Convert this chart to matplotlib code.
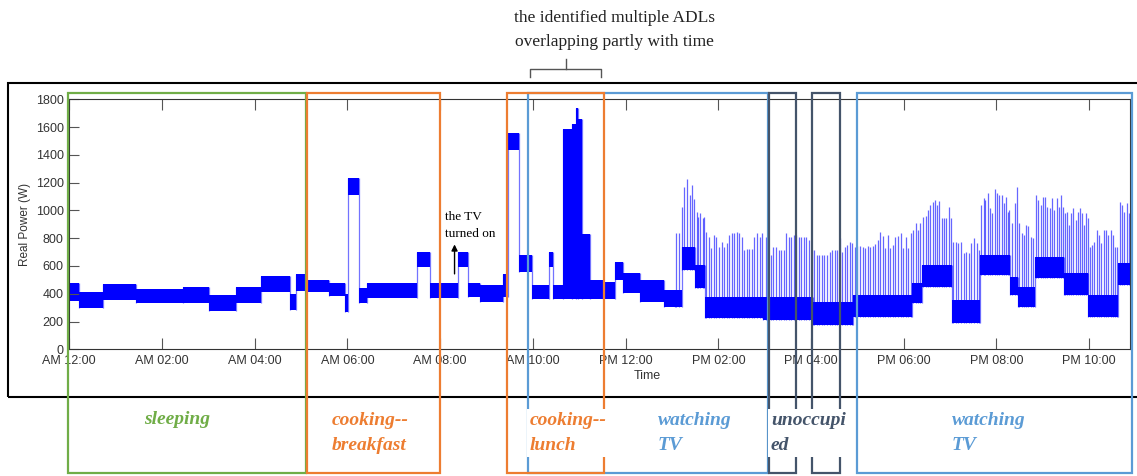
import numpy as np
import matplotlib
matplotlib.use("Agg")
import matplotlib.pyplot as plt
from matplotlib.patches import Rectangle
from matplotlib.lines import Line2D

plt.rcParams['font.family'] = ['Liberation Sans', 'DejaVu Sans']

# ---- data (hours since midnight, watts) ----
# dense band of the power signal: step segments with low / high envelope
band_edges = [0.00, 0.22, 0.72, 1.44, 2.45, 3.02, 3.60, 4.14, 4.75, 4.89,
              5.10, 5.60, 5.94, 6.02, 6.24, 6.42, 7.50, 7.78, 8.39, 8.61,
              8.86, 9.36, 9.47, 9.69, 9.98, 10.34, 10.44, 10.66, 10.84, 10.92,
              10.98, 11.05, 11.23, 11.52, 11.77, 11.95, 12.31, 12.82, 13.07, 13.21,
              13.50, 13.72, 14.97, 16.05, 16.91, 18.17, 18.39, 19.04, 19.65, 20.30,
              20.47, 20.83, 21.45, 21.98, 22.63, 22.88]
band_lo = [350, 295, 355, 331, 331, 276, 331, 415, 283, 420,
           410, 385, 271, 1111, 331, 367, 595, 367, 595, 379,
           343, 379, 1435, 559, 360, 595, 360, 360, 360, 360,
           360, 360, 360, 360, 499, 403, 343, 307, 302, 571,
           439, 223, 211, 175, 232, 331, 451, 187, 535, 391,
           307, 511, 391, 235, 463]
band_hi = [475, 415, 468, 432, 446, 391, 446, 528, 400, 545,
           500, 480, 400, 1231, 439, 475, 703, 475, 703, 475,
           463, 540, 1555, 679, 463, 703, 463, 1584, 1620, 1740,
           1660, 830, 499, 487, 631, 547, 499, 427, 427, 739,
           607, 379, 379, 343, 390, 475, 607, 355, 679, 523,
           451, 667, 547, 391, 619]

# short on/off spikes above the band (afternoon)
spike_t = [13.08, 13.16,
           13.22, 13.27, 13.32, 13.38, 13.43, 13.47,
           13.53, 13.57, 13.61, 13.66, 13.70,
           13.74, 13.79, 13.85, 13.90, 13.96, 14.01, 14.07, 14.12, 14.18, 14.23, 14.29, 14.34,
           14.40, 14.45, 14.51, 14.56, 14.62, 14.67, 14.73, 14.78, 14.84, 14.89, 14.95,
           15.02, 15.08, 15.13, 15.19, 15.24, 15.30, 15.35, 15.41, 15.46, 15.52, 15.57, 15.63,
           15.68, 15.74, 15.79, 15.85, 15.90, 15.96, 16.01,
           16.07, 16.12, 16.18, 16.23, 16.29, 16.34, 16.40, 16.45, 16.51, 16.56, 16.62, 16.67,
           16.73, 16.78, 16.84, 16.89,
           16.94, 17.00, 17.05, 17.11, 17.16, 17.22, 17.27, 17.33, 17.38, 17.44, 17.49, 17.55,
           17.60, 17.66, 17.71, 17.77, 17.82, 17.88, 17.93, 17.99, 18.04, 18.10, 18.15,
           18.20, 18.26, 18.31, 18.36,
           18.42, 18.47, 18.52, 18.57, 18.62, 18.67, 18.72, 18.77, 18.82, 18.87, 18.92, 18.97, 19.02,
           19.07, 19.13, 19.18, 19.24, 19.29, 19.35, 19.40, 19.46, 19.51, 19.57, 19.62,
           19.67, 19.72, 19.76, 19.81, 19.86, 19.91, 19.96, 20.01, 20.06, 20.11, 20.16, 20.21, 20.25, 20.28,
           20.33, 20.39, 20.44,
           20.49, 20.54, 20.59, 20.64, 20.69, 20.74, 20.79,
           20.85, 20.90, 20.95, 21.00, 21.05, 21.10, 21.15, 21.20, 21.25, 21.30, 21.35, 21.40, 21.44,
           21.47, 21.52, 21.56, 21.61, 21.66, 21.71, 21.75, 21.80, 21.85, 21.89, 21.93, 21.97,
           22.01, 22.06, 22.11, 22.16, 22.21, 22.26, 22.31, 22.36, 22.41, 22.46, 22.51, 22.56, 22.61,
           22.66, 22.71, 22.76, 22.81, 22.86]
spike_hi = [835, 835,
            1027, 1171, 1224, 1111, 1183, 1080,
            991, 955, 984, 943, 955,
            847, 811, 727, 823, 811, 739, 775, 739, 768, 823, 840, 835,
            845, 840, 811, 715, 720, 725, 720, 811, 840, 811, 840,
            811, 811, 679, 739, 739, 715, 715, 715, 835, 811, 811, 823,
            823, 811, 811, 811, 811, 787, 715,
            715, 679, 679, 679, 679, 679, 703, 715, 715, 715, 799, 703,
            739, 751, 775, 763,
            739, 745, 742, 739, 730, 742, 735, 745, 760, 790, 847, 816,
            727, 823, 727, 751, 811, 816, 835, 727, 811, 727, 835,
            859, 907, 859, 907,
            955, 960, 1003, 1039, 1063, 1075, 1039, 1070, 943, 943, 943, 1027, 943,
            775, 775, 763, 775, 691, 703, 691, 763, 799, 763, 715,
            1039, 1087, 1075, 1128, 1015, 979, 1152, 1123, 1111, 1111, 1051, 1099, 991, 1003,
            907, 1051, 1166,
            907, 835, 823, 895, 890, 811, 799,
            1111, 1075, 1039, 1099, 1095, 1027, 1015, 1087, 1003, 1087, 1027, 1111, 1027,
            979, 991, 895, 979, 1015, 931, 991, 1015, 979, 895, 979, 943,
            739, 751, 775, 859, 823, 763, 859, 859, 823, 859, 823, 739, 739,
            1063, 1039, 991, 1051, 979]

tick_hours = [0, 2, 4, 6, 8, 10, 12, 14, 16, 18, 20, 22]
tick_labels = ['AM 12:00', 'AM 02:00', 'AM 04:00', 'AM 06:00', 'AM 08:00', 'AM 10:00',
               'PM 12:00', 'PM 02:00', 'PM 04:00', 'PM 06:00', 'PM 08:00', 'PM 10:00']

activities = ['sleeping', 'cooking--\nbreakfast', 'cooking--\nlunch',
              'watching\nTV', 'unoccupi\ned', 'watching\nTV']

W, H = 1137, 476
GREEN, ORANGE, BLUE, DARK = '#70AD47', '#ED7D31', '#5B9BD5', '#44546A'


def fx(x):
    return x / W


def fy(y):
    return 1 - y / H


fig = plt.figure(figsize=(W / 100, H / 100), dpi=100)
ax = fig.add_axes([fx(69.3), fy(349.3), (1130 - 69.3) / W, 250 / H])

# signal: solid band, transitions between levels, spikes
ax.stairs(band_hi, band_edges, baseline=band_lo, fill=True, color='#0000ff', lw=0)
lo = np.array(band_lo)
hi = np.array(band_hi)
ax.vlines(band_edges[1:-1], np.minimum(lo[:-1], lo[1:]), np.maximum(hi[:-1], hi[1:]),
          color='#0000ff', lw=0.9, alpha=0.55)
idx = np.searchsorted(band_edges, spike_t, side='right') - 1
ax.vlines(spike_t, lo[idx], spike_hi, color='#0000ff', lw=0.9, alpha=0.6)

ax.set_xlim(0, 22.88)
ax.set_ylim(0, 1800)
ax.set_xticks(tick_hours)
ax.set_xticklabels(tick_labels)
ax.set_yticks(range(0, 1801, 200))
ax.tick_params(axis='x', direction='in', length=8, top=True, labelsize=9,
               color='#555555', labelcolor='#333333', pad=4)
ax.tick_params(axis='y', direction='in', length=7, labelsize=9,
               color='#555555', labelcolor='#333333', pad=4)
for s in ax.spines.values():
    s.set_color('#333333')
    s.set_linewidth(0.8)

fig.text(fx(25), fy(224), 'Real Power (W)', rotation=90, ha='center', va='center',
         fontsize=8.5, color='#333333')
fig.text(fx(647), fy(376), 'Time', ha='center', va='center', fontsize=9, color='#333333')

# TV annotation
ax.annotate('', xy=(8.31, 775), xytext=(8.31, 523),
            arrowprops=dict(arrowstyle='-|>', color='black', lw=1, mutation_scale=9))
ax.text(8.105, 890, 'the TV\nturned on', family='Liberation Serif', fontsize=9.5,
        ha='left', va='center', linespacing=1.5)

# outer frame
fig.add_artist(Rectangle((fx(7.5), fy(397)), (1150 - 7.5) / W, (397 - 83) / H,
                         transform=fig.transFigure, fill=False, ec='black', lw=1.5, zorder=4))

# activity rectangles (pixel layout)
boxes = [(528.3, 767.7, 93.3, BLUE), (68.3, 306, 92.7, GREEN), (306.7, 440, 93.3, ORANGE),
         (506.7, 604, 93.3, ORANGE), (769, 795.7, 92.7, DARK), (812, 840, 92.7, DARK),
         (856.7, 1132.3, 92.7, BLUE)]
for left, right, top, col in boxes:
    fig.add_artist(Rectangle((fx(left), fy(473)), (right - left) / W, (473 - top) / H,
                             transform=fig.transFigure, fill=False, ec=col, lw=1.6, zorder=5))

label_pos = [(177, 'center', GREEN), (332, 'left', ORANGE), (530, 'left', ORANGE),
             (658, 'left', BLUE), (771, 'left', DARK), (952, 'left', BLUE)]
for txt, (x, ha, col) in zip(activities, label_pos):
    y = 420 if '\n' not in txt else 433
    fig.text(fx(x), fy(y), txt, ha=ha, va='center', color=col, fontsize=14,
             family='Liberation Serif', fontweight='bold', fontstyle='italic',
             linespacing=1.6, zorder=6,
             bbox=dict(facecolor='white', edgecolor='none', pad=2))

# top note with bracket
fig.text(fx(614.7), fy(30), 'the identified multiple ADLs\noverlapping partly with time',
         ha='center', va='center', family='Liberation Serif', fontsize=12.5,
         linespacing=1.6, color='#222222')
bx = [fx(530), fx(530), fx(600.7), fx(600.7)]
by = [fy(77), fy(69.3), fy(69.3), fy(77)]
fig.add_artist(Line2D(bx, by, transform=fig.transFigure, color='#555555', lw=1))
fig.add_artist(Line2D([fx(566), fx(566)], [fy(69.3), fy(59.3)], transform=fig.transFigure,
                      color='#555555', lw=1))

fig.savefig('out.png', dpi=100)
